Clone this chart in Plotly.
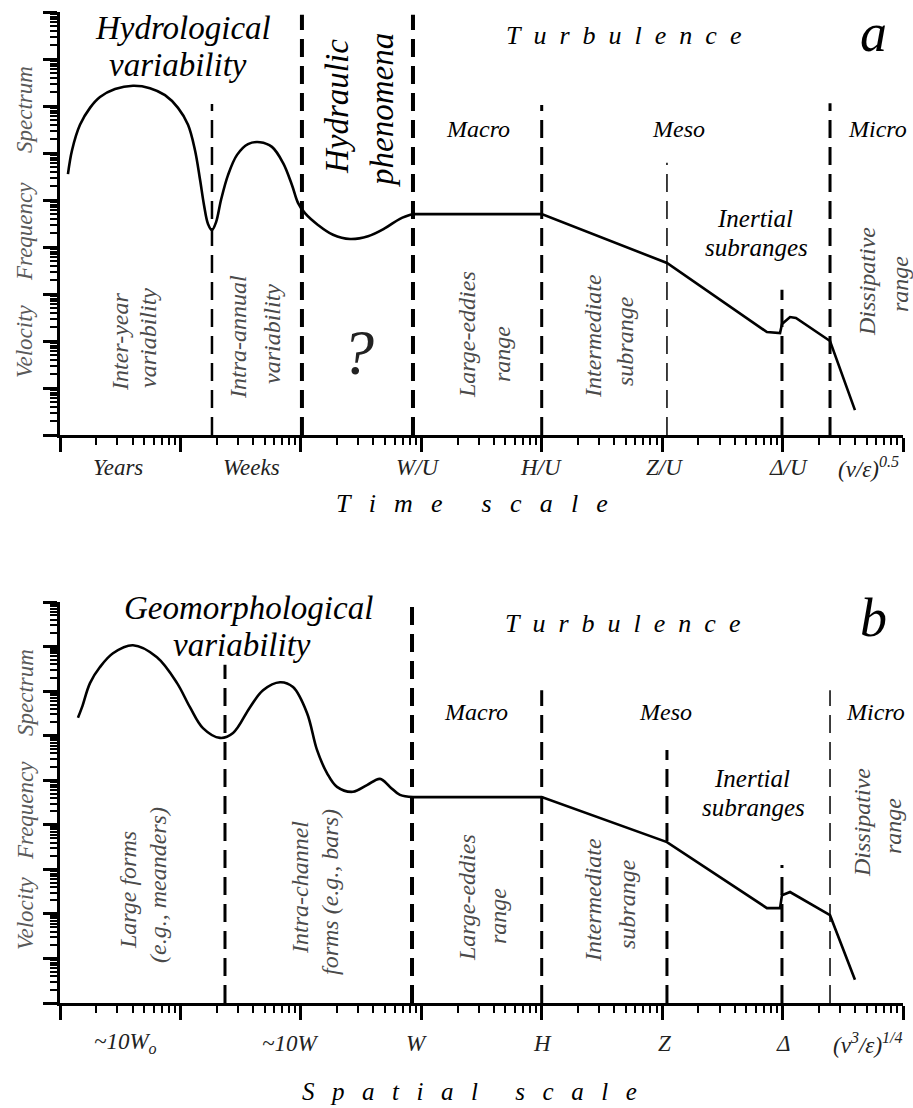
import plotly.graph_objects as go

FIG_W, FIG_H = 913, 1108
SERIF = "Liberation Serif"

# ---------------------------------------------------------------------------
# Spectrum curves, values given in decades (log10 of scale / spectral level)
# ---------------------------------------------------------------------------
# Panel a: hydrological + hydraulic part (smooth)
hydro_x = [0.066, 0.10, 0.166, 0.249, 0.332, 0.457, 0.606, 0.747, 0.872, 0.98,
           1.063, 1.121, 1.163, 1.196, 1.229, 1.262, 1.296, 1.337, 1.395, 1.47,
           1.561, 1.661, 1.76, 1.852, 1.926, 1.976, 2.034, 2.142, 2.267, 2.408,
           2.558, 2.699, 2.823, 2.931]
hydro_y = [5.55, 6.06, 6.60, 6.96, 7.19, 7.36, 7.43, 7.38, 7.23, 6.96,
           6.60, 6.06, 5.43, 4.89, 4.49, 4.36, 4.53, 5.00, 5.53, 5.96,
           6.19, 6.23, 6.13, 5.79, 5.32, 4.94, 4.72, 4.47, 4.26, 4.17,
           4.23, 4.40, 4.60, 4.70]
# Panel a: turbulence part (piecewise straight)
turb_a_x = [2.931, 4.0, 5.04, 5.87, 5.979, 5.995, 6.012, 6.062, 6.111, 6.394, 6.601]
turb_a_y = [4.70, 4.70, 3.66, 2.19, 2.17, 2.36, 2.40, 2.51, 2.49, 2.00, 0.53]

# Panel b: geomorphological part (smooth)
geo_x = [0.149, 0.183, 0.249, 0.332, 0.44, 0.606, 0.805, 0.972, 1.079, 1.187,
         1.329, 1.437, 1.578, 1.686, 1.827, 1.935, 2.051, 2.134, 2.217, 2.30,
         2.433, 2.549, 2.657, 2.74, 2.823, 2.931]
geo_y = [6.40, 6.64, 7.18, 7.54, 7.85, 8.03, 7.76, 7.18, 6.64, 6.17,
         5.95, 6.06, 6.64, 7.02, 7.20, 7.09, 6.51, 5.68, 5.16, 4.85,
         4.74, 4.89, 5.03, 4.85, 4.67, 4.62]
# Panel b: turbulence part
turb_b_x = [2.931, 4.0, 5.04, 5.87, 5.979, 5.995, 6.062, 6.394, 6.601]
turb_b_y = [4.62, 4.62, 3.61, 2.13, 2.13, 2.42, 2.49, 1.97, 0.52]

# Range boundaries: position (decades) and upper end (decades)
bound_a_x = [1.262, 2.009, 2.931, 4.0, 5.04, 5.995, 6.394]
bound_a_top = [7.04, 8.94, 8.94, 7.02, 5.79, 3.09, 7.06]
bound_b_x = [1.37, 2.923, 4.0, 5.04, 5.995, 6.394]
bound_b_top = [7.59, 9.0, 7.02, 5.68, 3.10, 7.02]

# Scale labels along the horizontal axes
time_labels = ["Years", "Weeks", "W/U", "H/U", "Z/U", "\u0394/U", "(\u03bd/\u03b5)<sup>0.5</sup>"]
time_label_pos = [0.48, 1.59, 2.97, 3.99, 5.02, 6.05, 6.71]
space_labels = ["~10W<sub>o</sub>", "~10W", "W", "H", "Z", "\u0394",
                "(\u03bd<sup>3</sup>/\u03b5)<sup>1/4</sup>"]
space_label_pos = [0.54, 1.91, 2.96, 4.01, 5.02, 6.01, 6.71]

# Line styles for the boundaries
bound_a_width = [2.5, 4, 4, 3, 1.5, 3, 3]
bound_b_width = [3, 4, 3, 3, 3, 1.5]

N_XDEC, N_YDEC = 7, 9


def px(x, y):
    """Pixel position -> paper coordinates."""
    return x / FIG_W, 1 - y / FIG_H


def spaced(text, gap="\u00a0\u00a0", word_gap=None):
    word_gap = word_gap if word_gap is not None else gap * 3
    words = text.split(" ")
    return word_gap.join(gap.join(w) for w in words)


fig = go.Figure()


def add_panel(xa, ya, smooth_x, smooth_y, lin_x, lin_y, bx, btop, bw):
    fig.add_trace(go.Scatter(
        x=[10 ** v for v in smooth_x], y=[10 ** v for v in smooth_y],
        mode="lines", line=dict(color="black", width=2.6, shape="spline", smoothing=1.0),
        xaxis=xa, yaxis=ya, showlegend=False))
    fig.add_trace(go.Scatter(
        x=[10 ** v for v in lin_x], y=[10 ** v for v in lin_y],
        mode="lines", line=dict(color="black", width=2.6),
        xaxis=xa, yaxis=ya, showlegend=False))
    for xv, top, w in zip(bx, btop, bw):
        fig.add_trace(go.Scatter(
            x=[10 ** xv, 10 ** xv], y=[1, 10 ** top],
            mode="lines", line=dict(color="black", width=w, dash="18px,9px"),
            xaxis=xa, yaxis=ya, showlegend=False))


add_panel("x", "y", hydro_x, hydro_y, turb_a_x, turb_a_y, bound_a_x, bound_a_top, bound_a_width)
add_panel("x2", "y2", geo_x, geo_y, turb_b_x, turb_b_y, bound_b_x, bound_b_top, bound_b_width)

x_major = [10 ** k for k in range(N_XDEC + 1)]
x_minor = [m * 10 ** k for k in range(N_XDEC) for m in range(2, 10)]
y_major = [10 ** k for k in range(N_YDEC + 1)]
y_minor = [m * 10 ** k for k in range(N_YDEC) for m in range(2, 10)]


def axis_style(major, minor, rng):
    return dict(
        type="log", range=rng, showline=True, linewidth=3, linecolor="black",
        ticks="outside", ticklen=14, tickwidth=2.5, tickcolor="black",
        tickvals=major, ticktext=[""] * len(major), showgrid=False, zeroline=False,
        minor=dict(tickvals=minor, ticks="outside", ticklen=7, tickwidth=2,
                   tickcolor="black", showgrid=False),
    )


x_dom = [60 / FIG_W, 903 / FIG_W]
ya_dom = [1 - 435 / FIG_H, 1 - 12 / FIG_H]
yb_dom = [1 - 1003 / FIG_H, 1 - 602 / FIG_H]

fig.update_layout(
    width=FIG_W, height=FIG_H,
    margin=dict(l=0, r=0, t=0, b=0),
    plot_bgcolor="white",
    showlegend=False,
    xaxis=dict(domain=x_dom, anchor="y", **axis_style(x_major, x_minor, [0, N_XDEC])),
    yaxis=dict(domain=ya_dom, anchor="x", **axis_style(y_major, y_minor, [0, N_YDEC])),
    xaxis2=dict(domain=x_dom, anchor="y2", **axis_style(x_major, x_minor, [0, N_XDEC])),
    yaxis2=dict(domain=yb_dom, anchor="x2", **axis_style(y_major, y_minor, [0, N_YDEC])),
)

annotations = []


def note(text, x, y, size, color="black", angle=0):
    xp, yp = px(x, y)
    item = dict(text="<i>" + text + "</i>", x=xp, y=yp, xref="paper", yref="paper",
                xanchor="center", yanchor="middle", showarrow=False,
                font=dict(family=SERIF, size=size, color=color))
    if angle:
        item["textangle"] = angle
    annotations.append(item)


GRAY = "#4a4a4a"
AXGRAY = "#5a5a5a"
TITLE_GAP = "\u2002\u2009"
TITLE_WORD_GAP = "\u2002" * 3

# ---- panel a -------------------------------------------------------------
note("Hydrological", 183, 28, 33)
note("variability", 178, 65, 33)
note("Hydraulic", 337, 107, 33, angle=-90)
note("phenomena", 382, 110, 33, angle=-90)
note(spaced("Turbulence"), 623, 35, 26)
note("a", 873, 33, 54)
note("Macro", 478, 129, 24)
note("Meso", 678, 129, 24)
note("Micro", 877, 129, 24)
note("Inertial", 755, 218, 25)
note("subranges", 756, 248, 25)
note("?", 358, 352, 64, color="#222")
note("Inter-year", 120, 342, 24, GRAY, -90)
note("variability", 148, 338, 24, GRAY, -90)
note("Intra-annual", 238, 337, 24, GRAY, -90)
note("variability", 272, 334, 24, GRAY, -90)
note("Large-eddies", 467, 335, 24, GRAY, -90)
note("range", 502, 354, 24, GRAY, -90)
note("Intermediate", 593, 336, 24, GRAY, -90)
note("subrange", 625, 341, 24, GRAY, -90)
note("Dissipative", 867, 282, 24, GRAY, -90)
note("range", 900, 284, 24, GRAY, -90)
note("Velocity", 25, 341, 23, AXGRAY, -90)
note("Frequency", 25, 232, 23, AXGRAY, -90)
note("Spectrum", 25, 110, 23, AXGRAY, -90)
note(spaced("Time scale", TITLE_GAP, TITLE_WORD_GAP), 472, 503, 26)

# ---- panel b -------------------------------------------------------------
note("Geomorphological", 248, 608, 33)
note("variability", 242, 645, 33)
note(spaced("Turbulence"), 622, 623, 26)
note("b", 873, 618, 54)
note("Macro", 476, 712, 24)
note("Meso", 665, 712, 24)
note("Micro", 875, 712, 24)
note("Inertial", 752, 778, 25)
note("subranges", 753, 807, 25)
note("Large forms", 128, 890, 24, GRAY, -90)
note("(e.g., meanders)", 158, 885, 24, GRAY, -90)
note("Intra-channel", 300, 888, 24, GRAY, -90)
note("forms (e.g., bars)", 330, 892, 24, GRAY, -90)
note("Large-eddies", 467, 898, 24, GRAY, -90)
note("range", 498, 916, 24, GRAY, -90)
note("Intermediate", 593, 900, 24, GRAY, -90)
note("subrange", 627, 904, 24, GRAY, -90)
note("Dissipative", 862, 823, 24, GRAY, -90)
note("range", 893, 826, 24, GRAY, -90)
note("Velocity", 25, 913, 23, AXGRAY, -90)
note("Frequency", 25, 811, 23, AXGRAY, -90)
note("Spectrum", 25, 693, 23, AXGRAY, -90)
note(spaced("Spatial scale", TITLE_GAP, TITLE_WORD_GAP), 469, 1091, 25)

# ---- scale labels under the axes -------------------------------------------
for lab, pos in zip(time_labels, time_label_pos):
    annotations.append(dict(
        text="<i>" + lab + "</i>", x=pos, xref="x", y=1 - 467 / FIG_H, yref="paper",
        xanchor="center", yanchor="middle", showarrow=False,
        font=dict(family=SERIF, size=23, color="#222")))
for lab, pos in zip(space_labels, space_label_pos):
    annotations.append(dict(
        text="<i>" + lab + "</i>", x=pos, xref="x2", y=1 - 1043 / FIG_H, yref="paper",
        xanchor="center", yanchor="middle", showarrow=False,
        font=dict(family=SERIF, size=23, color="#222")))

fig.update_layout(annotations=annotations)

fig.write_html("out.html")
